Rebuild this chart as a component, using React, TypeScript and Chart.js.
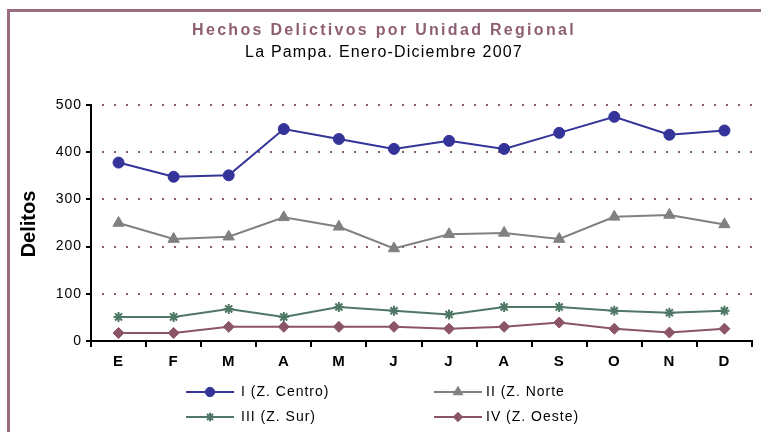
import React, { useEffect, useRef } from 'react';
import { Chart, registerables } from 'chart.js';
import { drawPoint } from 'chart.js/helpers';

Chart.register(...registerables);

const months = ['E', 'F', 'M', 'A', 'M', 'J', 'J', 'A', 'S', 'O', 'N', 'D'];
const centro = [378, 348, 351, 449, 428, 407, 424, 407, 441, 475, 437, 446];
const norte = [250, 216, 221, 262, 242, 196, 226, 229, 216, 263, 267, 247];
const sur = [51, 51, 68, 51, 72, 64, 56, 72, 72, 64, 60, 64];
const oeste = [17, 17, 30, 30, 30, 30, 26, 30, 39, 26, 18, 26];
const seriesNames = ['I (Z. Centro)', 'II (Z. Norte', 'III (Z. Sur)', 'IV (Z. Oeste)'];
const titleText = 'Hechos Delictivos por Unidad Regional';
const subtitleText = 'La Pampa. Enero-Diciembre 2007';
const yTitle = 'Delitos';
const yMin = 0;
const yMax = 500;
const yStep = 100;

const FONT = '"Liberation Sans", Arial, sans-serif';
const MAROON = '#8E5E72';

const decor = {
  id: 'decor',
  beforeDraw(chart: any) {
    const ctx = chart.ctx;
    ctx.save();
    ctx.fillStyle = '#fff';
    ctx.fillRect(0, 0, chart.width, chart.height);
    ctx.strokeStyle = '#9A6C7F';
    ctx.lineWidth = 3;
    ctx.strokeRect(8.5, 10.5, 900, 600);
    ctx.restore();
    ctx.letterSpacing = '1px';
  },
  afterDraw(chart: any) {
    const ctx = chart.ctx;
    ctx.letterSpacing = '0px';
    ctx.save();
    ctx.textAlign = 'center';
    ctx.textBaseline = 'middle';
    ctx.fillStyle = MAROON;
    ctx.font = `bold 16px ${FONT}`;
    ctx.letterSpacing = '2.3px';
    ctx.fillText(titleText, 384, 31);
    ctx.letterSpacing = '1.2px';
    ctx.fillStyle = '#000';
    ctx.font = `16px ${FONT}`;
    ctx.fillText(subtitleText, 384, 53);
    ctx.letterSpacing = '0px';
    ctx.save();
    ctx.translate(29, 224);
    ctx.rotate(-Math.PI / 2);
    ctx.font = `bold 20px ${FONT}`;
    ctx.fillText(yTitle, 0, 0);
    ctx.restore();

    // legend
    const lineX = [186, 434];
    const rowY = [392, 417];
    const textX = [241, 486];
    chart.data.datasets.forEach((ds: any, i: number) => {
      const col = i % 2;
      const row = Math.floor(i / 2);
      const y = rowY[row];
      ctx.strokeStyle = ds.borderColor;
      ctx.lineWidth = 2;
      ctx.beginPath();
      ctx.moveTo(lineX[col], y);
      ctx.lineTo(lineX[col] + 48, y);
      ctx.stroke();
      ctx.fillStyle = ds.pointBackgroundColor;
      ctx.strokeStyle = ds.pointBorderColor;
      ctx.lineWidth = ds.pointBorderWidth;
      drawPoint(ctx, { pointStyle: ds.pointStyle, radius: ds.pointRadius * 0.85, rotation: 0, borderWidth: ds.pointBorderWidth }, lineX[col] + 24, y);
      ctx.fillStyle = '#000';
      ctx.font = `14px ${FONT}`;
      ctx.letterSpacing = '1px';
      ctx.textAlign = 'left';
      ctx.fillText(ds.label, textX[col], y);
      ctx.letterSpacing = '0px';
    });
    ctx.restore();
  },
};

export default function App() {
  const ref = useRef<HTMLCanvasElement>(null);
  useEffect(() => {
    document.body.style.margin = '0';
    const mk = (label: string, data: number[], color: string, style: string, r: number) => ({
      label,
      data,
      borderColor: color,
      backgroundColor: color,
      pointBackgroundColor: color,
      pointBorderColor: color,
      pointBorderWidth: style === 'star' ? 2 : 1,
      pointStyle: style,
      pointRadius: r,
      borderWidth: 2,
      tension: 0,
    });
    const chart = new Chart(ref.current!, {
      type: 'line',
      data: {
        labels: months,
        datasets: [
          mk(seriesNames[0], centro, '#333399', 'circle', 5.5),
          mk(seriesNames[1], norte, '#808080', 'triangle', 6.5),
          mk(seriesNames[2], sur, '#4E7766', 'star', 5),
          mk(seriesNames[3], oeste, '#8B5468', 'rectRot', 5.5),
        ],
      },
      options: {
        responsive: false,
        animation: false,
        layout: { padding: { left: 0, right: 9, top: 105, bottom: 40 } },
        plugins: { legend: { display: false }, title: { display: false }, tooltip: { enabled: false } },
        scales: {
          x: {
            type: 'category',
            offset: true,
            grid: { drawOnChartArea: false, offset: true, tickLength: 6, color: '#000', lineWidth: 2 },
            border: { color: '#000', width: 2 },
            ticks: { color: '#000', font: { family: FONT, size: 15, weight: 'bold' }, padding: 6, maxRotation: 0, autoSkip: false },
            afterFit: (s: any) => { s.height = 51; },
          },
          y: {
            min: yMin,
            max: yMax,
            ticks: { stepSize: yStep, color: '#000', font: { family: FONT, size: 14 }, padding: 4 },
            grid: { color: '#8C5A6E', lineWidth: 2, tickLength: 5, tickColor: '#000', tickWidth: 2 },
            border: { color: '#000', width: 2, dash: [2, 10], dashOffset: 2 },
            afterFit: (s: any) => { s.width = 91; },
          },
        },
      },
      plugins: [decor],
    });
    return () => chart.destroy();
  }, []);
  return <canvas ref={ref} width={761} height={432} style={{ display: 'block' }} />;
}
